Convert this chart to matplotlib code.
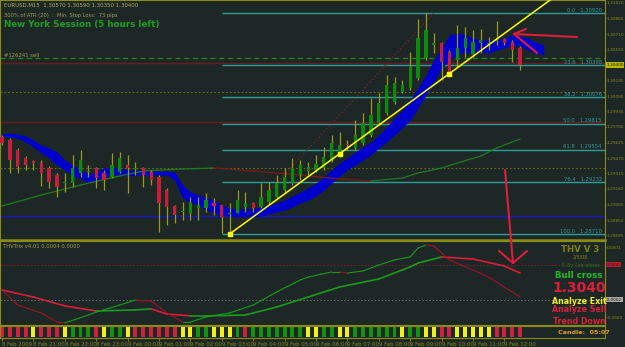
import numpy as np
import matplotlib
matplotlib.use("Agg")
import matplotlib.pyplot as plt

W, H = 625, 347

BG = "#1d2826"
OLIVE = "#8a8a14"
WICK = "#9a9a18"
GREEN = "#0b8a0b"
RED = "#c41e3a"
BLUE = "#0000cc"
TEAL = "#2e9a9a"
MAROON = "#6e1a1e"

# EURUSD M15, bar 0 = 8 Feb 20:00
opens = [1.2968, 1.2965, 1.2955, 1.2947, 1.2944, 1.2942, 1.2937, 1.2930, 1.2922, 1.2922,
         1.2932, 1.2933, 1.2937, 1.2932, 1.2928, 1.2933, 1.2940, 1.2936, 1.2937, 1.2933,
         1.2928, 1.2915, 1.2899, 1.2893, 1.2892, 1.2897, 1.2897, 1.2902, 1.2900, 1.2891,
         1.2892, 1.2898, 1.2902, 1.2898, 1.2903, 1.2908, 1.2915, 1.2922, 1.2930, 1.2934,
         1.2935, 1.2937, 1.2945, 1.2950, 1.2961, 1.2957, 1.2962, 1.2970, 1.2982, 1.2992,
         1.3003, 1.3013, 1.3017, 1.3027, 1.3047, 1.3060, 1.3062, 1.3053, 1.3045, 1.3057,
         1.3050, 1.3062, 1.3061, 1.3064, 1.3066, 1.3063, 1.3057]
highs = [1.2970, 1.2967, 1.2957, 1.2949, 1.2945, 1.2945, 1.2939, 1.2932, 1.2932, 1.2950,
         1.2955, 1.2940, 1.2938, 1.2935, 1.2952, 1.2953, 1.2950, 1.2943, 1.2938, 1.2935,
         1.2930, 1.2917, 1.2900, 1.2903, 1.2908, 1.2908, 1.2912, 1.2907, 1.2900, 1.2902,
         1.2915, 1.2913, 1.2903, 1.2922, 1.2923, 1.2930, 1.2937, 1.2947, 1.2945, 1.2943,
         1.2950, 1.2958, 1.2970, 1.2973, 1.2965, 1.2985, 1.2992, 1.3007, 1.3012, 1.3030,
         1.3028, 1.3025, 1.3053, 1.3086, 1.3092, 1.3072, 1.3063, 1.3055, 1.3080, 1.3078,
         1.3075, 1.3076, 1.3068, 1.3084, 1.3067, 1.3065, 1.3059]
lows = [1.2960, 1.2932, 1.2932, 1.2935, 1.2935, 1.2919, 1.2917, 1.2908, 1.2913, 1.2918,
        1.2928, 1.2928, 1.2917, 1.2915, 1.2927, 1.2932, 1.2912, 1.2930, 1.2918, 1.2920,
        1.2873, 1.2880, 1.2882, 1.2885, 1.2885, 1.2885, 1.2893, 1.2890, 1.2872, 1.2871,
        1.2892, 1.2893, 1.2893, 1.2897, 1.2901, 1.2907, 1.2913, 1.2920, 1.2925, 1.2930,
        1.2933, 1.2935, 1.2943, 1.2948, 1.2955, 1.2955, 1.2960, 1.2968, 1.2980, 1.2990,
        1.3001, 1.3012, 1.3015, 1.3025, 1.3045, 1.3052, 1.3025, 1.3030, 1.3038, 1.3048,
        1.3048, 1.3052, 1.3055, 1.3060, 1.3060, 1.3043, 1.3035]
closes = [1.2962, 1.2945, 1.2938, 1.2940, 1.2942, 1.2932, 1.2923, 1.2918, 1.2923, 1.2937,
          1.2945, 1.2934, 1.2927, 1.2925, 1.2940, 1.2947, 1.2937, 1.2937, 1.2930, 1.2925,
          1.2902, 1.2898, 1.2890, 1.2894, 1.2902, 1.2900, 1.2905, 1.2899, 1.2888, 1.2892,
          1.2905, 1.2902, 1.2897, 1.2908, 1.2915, 1.2922, 1.2928, 1.2937, 1.2940, 1.2938,
          1.2941, 1.2948, 1.2962, 1.2960, 1.2960, 1.2970, 1.2982, 1.2990, 1.3002, 1.3020,
          1.3022, 1.3020, 1.3038, 1.3067, 1.3075, 1.3062, 1.3043, 1.3033, 1.3057, 1.3067,
          1.3063, 1.3065, 1.3062, 1.3065, 1.3062, 1.3055, 1.3040]

# ATR stop band (shifted 3 bars forward)
band_up = [1.2971, 1.2972, 1.2971, 1.2969, 1.2965, 1.2960, 1.2957, 1.2953, 1.2945, 1.2940,
           1.2935, 1.2931, 1.2933, 1.2937, 1.2938, 1.2937, 1.2935, 1.2935, 1.2935, 1.2934,
           1.2934, 1.2934, 1.2933, 1.2920, 1.2913, 1.2910, 1.2907, 1.2905, 1.2900, 1.2897,
           1.2896, 1.2896, 1.2897, 1.2898, 1.2900, 1.2902, 1.2905, 1.2909, 1.2913, 1.2917,
           1.2922, 1.2928, 1.2935, 1.2942, 1.2947, 1.2953, 1.2958, 1.2963, 1.2970, 1.2978,
           1.2987, 1.2995, 1.3005, 1.3017, 1.3030, 1.3045, 1.3057, 1.3070, 1.3072, 1.3070,
           1.3067, 1.3065, 1.3065, 1.3065, 1.3067, 1.3070, 1.3069, 1.3067, 1.3063, 1.3060]
band_dn = [1.2968, 1.2968, 1.2967, 1.2963, 1.2958, 1.2952, 1.2947, 1.2940, 1.2935, 1.2929,
           1.2927, 1.2922, 1.2925, 1.2928, 1.2930, 1.2930, 1.2929, 1.2930, 1.2930, 1.2930,
           1.2930, 1.2930, 1.2925, 1.2907, 1.2903, 1.2900, 1.2895, 1.2892, 1.2890, 1.2889,
           1.2888, 1.2888, 1.2888, 1.2889, 1.2891, 1.2893, 1.2895, 1.2898, 1.2902, 1.2905,
           1.2909, 1.2915, 1.2922, 1.2929, 1.2935, 1.2940, 1.2945, 1.2950, 1.2957, 1.2963,
           1.2970, 1.2977, 1.2985, 1.2997, 1.3010, 1.3023, 1.3037, 1.3045, 1.3050, 1.3053,
           1.3050, 1.3053, 1.3052, 1.3055, 1.3057, 1.3060, 1.3059, 1.3055, 1.3052, 1.3050]

# slow moving average
ma_idx = [0, 5, 10, 15, 18, 23, 27, 32, 38, 43, 47, 51, 53, 56, 58, 61, 63, 66]
ma_val = [1.2899, 1.2910, 1.2920, 1.2929, 1.2934, 1.2936, 1.2937, 1.2934, 1.2930, 1.2926,
          1.2924, 1.2927, 1.2932, 1.2937, 1.2942, 1.2949, 1.2957, 1.2966]

# drawn objects
fib_pcts = [0.0, 23.6, 38.2, 50.0, 61.8, 76.4, 100.0]
fib_low_bar, fib_low = 29, 1.2871
fib_high_bar, fib_high = 55, 1.3092
fib_start = 28
trend_x = [29, 70]
trend_y = [1.2871, 1.3106]
trend_marks = [29, 43, 57]
blue_level = 1.2889
maroon_levels = [1.2983, 1.3042]
dotted_levels = [1.3013, 1.2937]
order_price = 1.3047
price_ticks = [1.31020, 1.30865, 1.30710, 1.30555, 1.30245, 1.30090, 1.29935, 1.29780,
               1.29625, 1.29470, 1.29315, 1.29160, 1.29005, 1.28850, 1.28695]

# THVTrix (values x 1e-4)
main_idx = [0, 2, 5, 7, 8, 11, 12, 15, 17, 19, 21, 23, 24, 26, 29, 32, 35, 38, 39, 42,
            43, 44, 46, 48, 50, 52, 53, 54, 55, 57, 60, 62, 64, 66]
main_val = [-1.43, -2.29, -2.74, -3.26, -3.31, -2.86, -2.69, -2.29, -2.00, -2.06,
            -2.74, -3.26, -3.26, -2.97, -2.74, -2.29, -1.54, -0.86, -0.69, -0.40,
            -0.40, -0.46, -0.34, 0.00, 0.29, 0.46, 0.97, 1.14, 1.09, 0.29,
            -0.29, -0.69, -1.26, -1.83]
sig_idx = [0, 4, 8, 12, 17, 19, 21, 24, 26, 31, 35, 39, 43, 48, 52, 53, 56, 60, 64, 66]
sig_val = [-1.43, -1.83, -2.34, -2.63, -2.57, -2.51, -2.80, -2.91, -2.91, -2.86,
           -2.40, -1.83, -1.26, -0.80, -0.11, 0.11, 0.46, 0.34, -0.06, -0.46]
ind_levels = [0.0, -2.0]
ind_ticks = [1.0, -3.0]

# candle colour strip
strip = "rrrryrrryggg" + "rygg" + "yrrrrrr" + "yygg" + "yyyg" + "rggggggg" + "yygg" + "yygggggg" + "ygg" + "yyrr" + "yyyyy" + "rrrr"
strip_colors = {"r": "#d02040", "y": "#f0f020", "g": "#109410"}

tick_idx = list(range(0, 65, 4))
tick_lbl = ["8 Feb 2009", "8 Feb 21:00", "8 Feb 22:00", "8 Feb 23:00", "9 Feb 00:00",
            "9 Feb 01:00", "9 Feb 02:00", "9 Feb 03:00", "9 Feb 04:00", "9 Feb 05:00",
            "9 Feb 06:00", "9 Feb 07:00", "9 Feb 08:00", "9 Feb 09:00", "9 Feb 10:00",
            "9 Feb 11:00", "9 Feb 12:00"]

# hand-drawn arrows (pixel coords)
arrow_left = [[(577, 37), (514, 34)], [(514, 34), (526, 29)], [(514, 34), (537, 53)]]
arrow_down = [[(505, 170), (513, 263)], [(513, 263), (499, 251)], [(513, 263), (527, 251)]]

RIGHT = 605
XMIN, XMAX = -0.255, (RIGHT - 2) / 7.85

fig = plt.figure(figsize=(W / 100, H / 100), dpi=100, facecolor=BG)


def px_axes(top, bottom, left=0, right=RIGHT):
    a = fig.add_axes([left / W, 1 - bottom / H, (right - left) / W, (bottom - top) / H])
    a.set_facecolor(BG)
    a.set_xlim(XMIN, XMAX)
    for s in a.spines.values():
        s.set_color(OLIVE)
        s.set_linewidth(0.8)
    return a


def slope_line(a, xs, ys, up_col, dn_col, lw):
    for i in range(len(xs) - 1):
        col = up_col if ys[i + 1] >= ys[i] else dn_col
        a.plot(xs[i:i + 2], ys[i:i + 2], color=col, lw=lw, solid_capstyle="round", zorder=3)


def right_ticks(a, ticks, labels):
    a.yaxis.tick_right()
    a.set_yticks(ticks)
    a.set_yticklabels(labels)
    a.tick_params(axis="y", colors=OLIVE, labelsize=3.1, length=1, width=0.6, pad=0.3)


def value_box(a, y, label, fc):
    a.text(1.002, y, label, transform=a.get_yaxis_transform(), ha="left", va="center",
           fontsize=3.1, color="#202010", clip_on=False,
           bbox=dict(boxstyle="square,pad=0.12", fc=fc, ec="none"))


# ---------- main price panel ----------
ax = px_axes(0, 240)
ax.set_ylim(1.2865, 1.3105)
ax.spines["bottom"].set_linewidth(1.8)

x = np.arange(len(opens))
o, h, l, c = map(np.array, (opens, highs, lows, closes))

ax.fill_between(np.arange(len(band_up)), band_dn, band_up, color=BLUE, lw=0, zorder=2)

ax.axhline(blue_level, color="#1414c8", lw=1.0, zorder=1)
for lv in maroon_levels:
    ax.axhline(lv, color=MAROON, lw=1.0, zorder=1)
for lv in dotted_levels:
    ax.axhline(lv, color="#6a6a10", lw=0.8, ls=(0, (1.5, 2)), zorder=1)
ax.axhline(order_price, color="#1a8a1a", lw=0.9, ls=(0, (4, 3)), zorder=1)

span = fib_high - fib_low
for p in fib_pcts:
    lv = fib_high - p / 100 * span
    ax.hlines(lv, fib_start, XMAX, color=TEAL, lw=1.0, zorder=1)
    ax.text(0.995, lv + 0.00003, f"{p:.1f}   {lv:.5f}", transform=ax.get_yaxis_transform(),
            ha="right", va="bottom", fontsize=3.8, color=TEAL, zorder=5)
ax.plot([fib_low_bar, fib_high_bar], [fib_low, fib_high], color="#8a1a22", lw=0.9,
        ls=(0, (1, 2)), zorder=2)

slope_line(ax, ma_idx, ma_val, "#1e7a1e", "#7a1a1a", 0.9)

ax.vlines(x, l, h, color=WICK, lw=0.9, zorder=3)
body_lo = np.minimum(o, c)
body_h = np.maximum(np.abs(c - o), 0.00008)
ax.bar(x, body_h, bottom=body_lo, width=0.42, color=np.where(c >= o, GREEN, RED),
       lw=0, zorder=4)

ax.plot(trend_x, trend_y, color="#ffff00", lw=1.1, zorder=6)
ax.plot(trend_marks, np.interp(trend_marks, trend_x, trend_y), ls="none", marker="s",
        ms=2.2, color="#ffff00", zorder=6)

ax.set_xticks([])
right_ticks(ax, price_ticks, [f"{t:.5f}" for t in price_ticks])
value_box(ax, c[-1], f"{c[-1]:.5f}", "#b8b800")

# ---------- THVTrix panel ----------
ai = px_axes(241, 325)
ai.set_ylim(-3.43, 1.37)
ai.axhline(ind_levels[0], color="#8a1a2a", lw=0.7, ls=(0, (1.5, 2)))
ai.axhline(ind_levels[1], color="#6a6a6a", lw=0.7, ls=(0, (1.5, 2)))
slope_line(ai, sig_idx, sig_val, "#1a9a1a", "#d81e3c", 1.2)
slope_line(ai, main_idx, main_val, "#1a9a1a", "#a0102a", 0.8)
ai.set_xticks([])
right_ticks(ai, ind_ticks, [f"{v * 1e-4:.4f}" for v in ind_ticks])
for lv, fc in zip(ind_levels, ["#c01a30", "#a8a8a8"]):
    value_box(ai, lv, f"{lv * 1e-4:.4f}", fc)

# ---------- colour strip + time axis ----------
ab = px_axes(326, 338)
ab.set_ylim(0, 1)
ab.bar(x, 0.9, bottom=0.05, width=0.5, color=[strip_colors[k] for k in strip], lw=0)
ab.set_yticks([])
ab.set_xticks(tick_idx)
ab.set_xticklabels(tick_lbl)
ab.tick_params(axis="x", colors=OLIVE, labelsize=3.9, length=2, width=0.6, pad=1)
for t in ab.get_xticklabels():
    t.set_ha("left")

# ---------- overlay texts and arrows (pixel coords) ----------
ov = fig.add_axes([0, 0, 1, 1], facecolor="none")
ov.set_xlim(0, W)
ov.set_ylim(H, 0)
ov.axis("off")
ov.set_zorder(10)

ov.text(4, 5, f"EURUSD,M15  {o[-1]:.5f} {h[-1]:.5f} {l[-1]:.5f} {c[-1]:.5f}",
        fontsize=3.9, color="#b0b060", va="center")
ov.text(4, 15, "300% of ATR (20)  :  Min. Stop Loss:  73 pips", fontsize=3.7,
        color="#a0a050", va="center")
ov.text(4, 24, "New York Session (5 hours left)", fontsize=6.3, fontweight="bold",
        color="#1e9e1e", va="center")
ov.text(4, 55, "#126241 sell", fontsize=3.8, color="#a0a040", va="center")
ov.text(3, 246, "THVTrix v4.01 0.0004 0.0000", fontsize=3.8, color="#a0a040", va="center")

ov.text(580, 249, "THV V 3", fontsize=6.2, fontweight="bold", color="#808010",
        ha="center", va="center")
ov.text(580, 257, "2/5/08", fontsize=3.4, color="#808010", ha="center", va="center")
ov.text(580, 265, "\u00a9 By Cobraforex", fontsize=3.3, color="#1a7a1a", ha="center",
        va="center")
ov.text(555, 275, "Bull cross", fontsize=6.2, fontweight="bold", color="#22bb22",
        va="center")
ov.text(552, 288, f"{c[-1]:.4f}", fontsize=10, fontweight="bold", color="#dc1e3c",
        va="center")
ov.text(552, 301, "Analyze Exit", fontsize=5.7, fontweight="bold", color="#f0f020",
        va="center")
ov.text(552, 310, "Analyze Sell", fontsize=5.7, fontweight="bold", color="#dc1e3c",
        va="center")
ov.text(553, 321, "Trend Down", fontsize=5.7, fontweight="bold", color="#dc1e3c",
        va="center")
ov.text(558, 333, "Candle:  05:07", fontsize=4.6, fontweight="bold", color="#e0a020",
        va="center")

for seg in arrow_left + arrow_down:
    (x0, y0), (x1, y1) = seg
    ov.plot([x0, x1], [y0, y1], color="#dc1e3c", lw=1.5, solid_capstyle="round")

fig.savefig("out.png", dpi=100, facecolor=BG)
